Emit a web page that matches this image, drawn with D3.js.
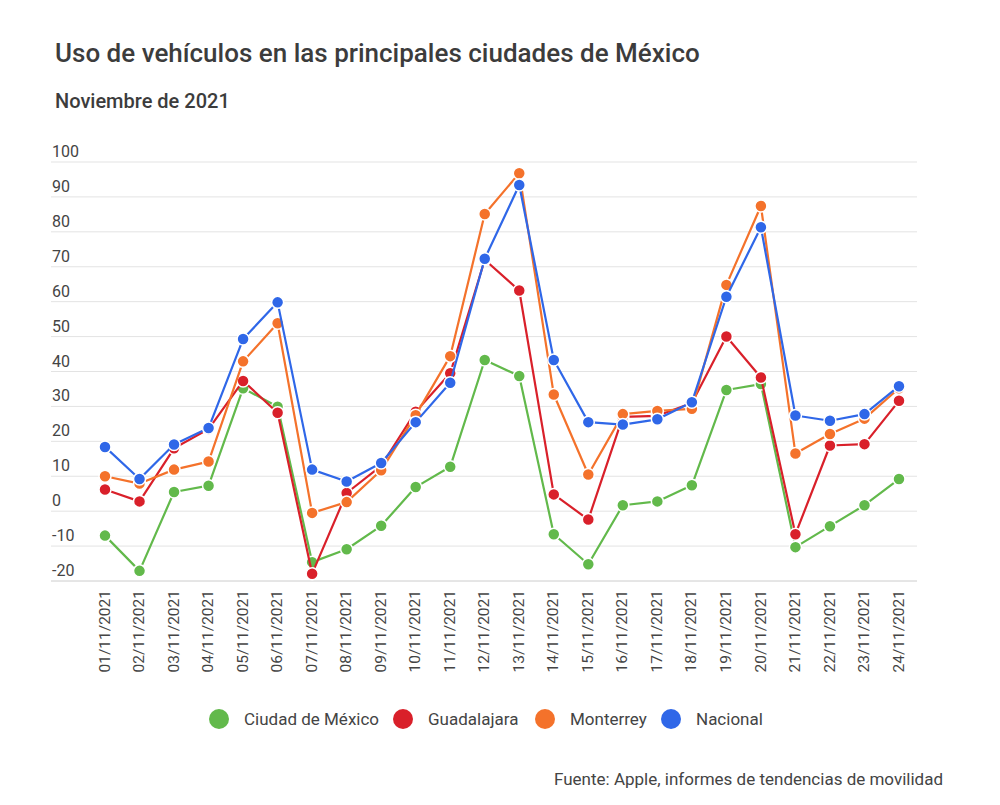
<!DOCTYPE html>
<html>
<head>
<meta charset="utf-8">
<script src="https://cdn.jsdelivr.net/npm/d3@7"></script>
<style>
  body { margin: 0; background: #fff; }
  svg text { font-family: Roboto, "Noto Sans", sans-serif; }
</style>
</head>
<body>
<div id="chart"></div>
<script>
const dates = ['01/11/2021','02/11/2021','03/11/2021','04/11/2021','05/11/2021','06/11/2021',
  '07/11/2021','08/11/2021','09/11/2021','10/11/2021','11/11/2021','12/11/2021',
  '13/11/2021','14/11/2021','15/11/2021','16/11/2021','17/11/2021','18/11/2021',
  '19/11/2021','20/11/2021','21/11/2021','22/11/2021','23/11/2021','24/11/2021'];

const cdmx = [-7.0, -17.1, 5.5, 7.3, 35.2, 29.9, -14.6, -10.9, -4.2, 6.9, 12.7, 43.3,
  38.7, -6.6, -15.2, 1.7, 2.8, 7.4, 34.7, 36.4, -10.3, -4.3, 1.7, 9.2];
const guadalajara = [6.2, 2.8, 18.0, 23.5, 37.3, 28.2, -17.9, 5.2, 13.0, 28.5, 39.5, 72.0,
  63.2, 4.8, -2.4, 27.0, 27.3, 31.0, 50.0, 38.3, -6.6, 18.8, 19.2, 31.6];
const monterrey = [10.0, 7.9, 11.9, 14.2, 42.9, 53.8, -0.5, 2.6, 11.7, 27.5, 44.4, 85.1,
  96.8, 33.4, 10.5, 27.8, 28.7, 29.3, 64.8, 87.4, 16.5, 22.1, 26.5, 35.2];
const nacional = [18.4, 9.2, 19.1, 23.8, 49.3, 59.8, 11.9, 8.5, 13.8, 25.5, 36.8, 72.3,
  93.4, 43.3, 25.5, 24.8, 26.3, 31.2, 61.4, 81.3, 27.4, 25.9, 27.8, 35.8];

const seriesNames = ['Ciudad de México', 'Guadalajara', 'Monterrey', 'Nacional'];
const seriesColors = ['#62b94b', '#d9202a', '#f4722b', '#2f67e8'];
const yTicks = [-20, -10, 0, 10, 20, 30, 40, 50, 60, 70, 80, 90, 100];

const series = [cdmx, guadalajara, monterrey, nacional].map((values, i) => ({
  name: seriesNames[i], color: seriesColors[i], values
}));

const W = 1000, H = 805;
const margin = {top: 162, right: 83, bottom: 224, left: 51};
const width = W - margin.left - margin.right;
const height = H - margin.top - margin.bottom;

const svg = d3.select('#chart').append('svg')
  .attr('width', W)
  .attr('height', H);

// Titles
svg.append('text')
  .attr('x', 55).attr('y', 62)
  .attr('font-size', 26).attr('font-weight', 500)
  .attr('fill', '#3c3c3c')
  .text('Uso de vehículos en las principales ciudades de México');

svg.append('text')
  .attr('x', 55).attr('y', 108)
  .attr('font-size', 20).attr('font-weight', 500)
  .attr('fill', '#3c3c3c')
  .text('Noviembre de 2021');

const g = svg.append('g')
  .attr('transform', `translate(${margin.left},${margin.top})`);

const x = d3.scalePoint()
  .domain(dates)
  .range([54, 848]);

const y = d3.scaleLinear()
  .domain([-20, 100])
  .range([height, 0]);

// Gridlines
g.append('g').selectAll('line')
  .data(yTicks)
  .join('line')
  .attr('x1', 0).attr('x2', width)
  .attr('y1', d => y(d)).attr('y2', d => y(d))
  .attr('stroke', d => d === -20 ? '#cccccc' : '#e3e3e3')
  .attr('stroke-width', 1);

// Y tick labels (sit above the gridlines)
g.append('g').selectAll('text')
  .data(yTicks)
  .join('text')
  .attr('x', 1)
  .attr('y', d => y(d) - 5)
  .attr('font-size', 16)
  .attr('fill', '#444')
  .text(d => d);

// X axis labels, rotated
const xAxis = d3.axisBottom(x).tickSize(0).tickPadding(0);
const xg = g.append('g')
  .attr('transform', `translate(0,${height})`)
  .call(xAxis);
xg.select('.domain').remove();
xg.selectAll('text')
  .attr('font-size', 15.5)
  .attr('fill', '#444')
  .attr('text-anchor', 'end')
  .attr('dy', null)
  .attr('transform', 'rotate(-90)')
  .attr('x', -9)
  .attr('y', 0)
  .attr('dominant-baseline', 'middle');

// Lines
const line = d3.line()
  .x((d, i) => x(dates[i]))
  .y(d => y(d));

series.forEach(s => {
  const sg = g.append('g');
  sg.append('path')
    .datum(s.values)
    .attr('fill', 'none')
    .attr('stroke', s.color)
    .attr('stroke-width', 2.2)
    .attr('stroke-linejoin', 'round')
    .attr('d', line);
  sg.selectAll('circle')
    .data(s.values)
    .join('circle')
    .attr('cx', (d, i) => x(dates[i]))
    .attr('cy', d => y(d))
    .attr('r', 6)
    .attr('fill', s.color)
    .attr('stroke', '#fff')
    .attr('stroke-width', 1.5);
});

// Legend
const legendX = [219, 403, 545, 671];
const legend = svg.append('g');
series.forEach((s, i) => {
  legend.append('circle')
    .attr('cx', legendX[i]).attr('cy', 719)
    .attr('r', 10)
    .attr('fill', s.color);
  legend.append('text')
    .attr('x', legendX[i] + 25).attr('y', 725)
    .attr('font-size', 17)
    .attr('fill', '#444')
    .text(s.name);
});

// Source
svg.append('text')
  .attr('x', 943).attr('y', 785)
  .attr('text-anchor', 'end')
  .attr('font-size', 17)
  .attr('fill', '#444')
  .text('Fuente: Apple, informes de tendencias de movilidad');
</script>
</body>
</html>
